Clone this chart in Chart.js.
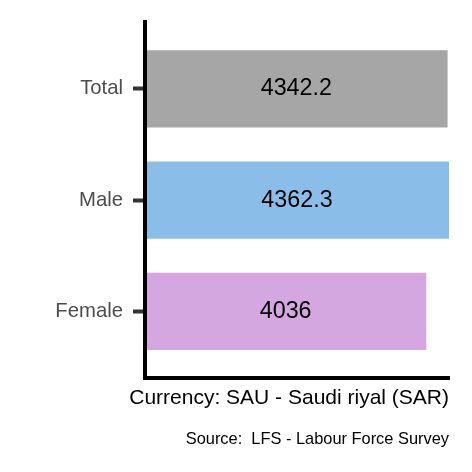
<!DOCTYPE html>
<html>
<head>
<meta charset="utf-8">
<script src="https://cdn.jsdelivr.net/npm/chart.js@4"></script>
<style>
html,body{margin:0;padding:0;background:#fff;}
#wrap{width:472px;height:472px;}
</style>
</head>
<body>
<div id="wrap"><canvas id="c" width="472" height="472"></canvas></div>
<script>
const categories = ["Total", "Male", "Female"];
const values = [4342.2, 4362.3, 4036];
const valueLabels = ["4342.2", "4362.3", "4036"];
const barColors = ["#A6A6A6", "#8BBDE9", "#D5A7E1"];
const xTitle = "Currency: SAU - Saudi riyal (SAR)";
const sourceText = "Source:  LFS - Labour Force Survey";

const FONT = "'Liberation Sans', Arial, Helvetica, sans-serif";

const barLabelPlugin = {
  id: 'barLabels',
  afterDatasetsDraw(chart) {
    const ctx = chart.ctx;
    const meta = chart.getDatasetMeta(0);
    ctx.save();
    ctx.font = "23.3px " + FONT;
    ctx.fillStyle = "#000000";
    ctx.textAlign = "center";
    ctx.textBaseline = "middle";
    meta.data.forEach((bar, i) => {
      const p = bar.getProps(['x', 'y', 'base'], true);
      ctx.fillText(valueLabels[i], (p.x + p.base) / 2, p.y);
    });
    ctx.restore();
  }
};

new Chart(document.getElementById('c'), {
  type: 'bar',
  data: {
    datasets: [{
      data: values.map((v, i) => ({ x: v, y: i })),
      backgroundColor: barColors,
      borderWidth: 0,
      categoryPercentage: 1,
      barPercentage: 0.695
    }]
  },
  options: {
    indexAxis: 'y',
    responsive: false,
    animation: false,
    devicePixelRatio: 1,
    layout: { padding: { top: 22, right: 23, bottom: 23, left: 0 } },
    plugins: {
      legend: { display: false },
      tooltip: { enabled: false },
      subtitle: {
        display: true,
        text: xTitle,
        position: 'bottom',
        align: 'end',
        color: '#000000',
        font: { family: FONT, size: 21, weight: 'normal' },
        padding: { top: 8, bottom: 18.1 }
      },
      title: {
        display: true,
        text: sourceText,
        position: 'bottom',
        align: 'end',
        color: '#000000',
        font: { family: FONT, size: 16.4, weight: 'normal' },
        padding: { top: 0, bottom: 0 }
      }
    },
    scales: {
      x: {
        type: 'linear',
        min: 0,
        max: 4362.3,
        ticks: { display: false },
        grid: { display: false, drawTicks: false },
        border: { display: true, color: '#000000', width: 4, z: 1 }
      },
      y: {
        type: 'linear',
        min: -0.6,
        max: 2.6,
        reverse: true,
        offset: false,
        afterBuildTicks: (scale) => { scale.ticks = categories.map((_, i) => ({ value: i })); },
        afterFit: (scale) => { scale.width = 145; },
        ticks: {
          callback: (v) => categories[v],
          color: '#4D4D4D',
          font: { family: FONT, size: 20.3 },
          padding: 10,
          autoSkip: false
        },
        grid: {
          display: true,
          offset: false,
          drawOnChartArea: false,
          drawTicks: true,
          tickLength: 12,
          tickWidth: 4,
          tickColor: '#333333'
        },
        border: { display: true, color: '#000000', width: 4, z: 1 }
      }
    }
  },
  plugins: [barLabelPlugin]
});
</script>
</body>
</html>
